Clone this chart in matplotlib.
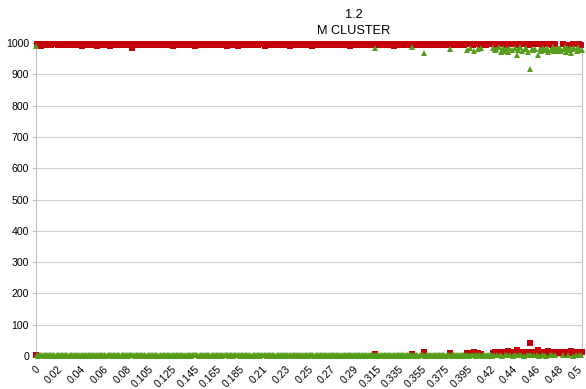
import numpy as np
import matplotlib.pyplot as plt
from matplotlib.transforms import ScaledTranslation

plt.rcParams["font.family"] = ["Liberation Sans", "DejaVu Sans"]

# one label per block of 21 runs (5 runs for every p step of 0.005)
tick_labels = ["0", "0.02", "0.04", "0.06", "0.08", "0.105", "0.125", "0.145",
               "0.165", "0.185", "0.21", "0.23", "0.25", "0.27", "0.29", "0.315",
               "0.335", "0.355", "0.375", "0.395", "0.42", "0.44", "0.46", "0.48", "0.5"]

# size of cluster 1 per run, grouped by label block
red_blocks = [
    [3, 996, 997, 995, 996, 990, 996, 997, 996, 995, 996, 997, 996, 996, 995, 997, 996, 996, 997, 996, 995],
    [996, 997, 996, 995, 996, 997, 996, 995, 996, 997, 996, 996, 995, 997, 996, 996, 997, 995, 996, 997, 996],
    [990, 996, 997, 995, 996, 997, 996, 995, 996, 997, 996, 995, 996, 997, 990, 996, 997, 996, 995, 996, 997],
    [996, 995, 997, 996, 996, 990, 996, 997, 995, 996, 996, 997, 996, 995, 996, 997, 996, 996, 995, 997, 996],
    [996, 997, 995, 996, 996, 985, 996, 997, 996, 995, 996, 997, 996, 996, 995, 997, 996, 996, 997, 995, 996],
    [997, 996, 995, 996, 997, 996, 996, 995, 997, 996, 996, 997, 995, 996, 996, 997, 996, 995, 996, 997, 996],
    [990, 996, 997, 996, 995, 996, 997, 996, 996, 995, 997, 996, 996, 997, 995, 996, 996, 997, 996, 995, 996],
    [990, 996, 995, 997, 996, 996, 995, 997, 996, 996, 997, 995, 996, 996, 997, 996, 995, 996, 997, 996, 996],
    [995, 997, 996, 996, 997, 995, 996, 996, 991, 996, 997, 995, 996, 996, 997, 996, 995, 996, 990, 996, 997],
    [996, 995, 996, 997, 996, 996, 995, 997, 996, 996, 997, 995, 996, 996, 997, 996, 995, 996, 997, 996, 996],
    [996, 990, 996, 997, 995, 996, 996, 997, 996, 995, 996, 997, 996, 996, 995, 997, 996, 996, 997, 995, 996],
    [997, 996, 995, 991, 996, 997, 996, 996, 995, 997, 996, 996, 997, 995, 996, 996, 997, 996, 995, 996, 997],
    [996, 996, 995, 990, 996, 997, 996, 995, 996, 997, 996, 996, 995, 997, 996, 996, 997, 995, 996, 996, 997],
    [996, 995, 996, 997, 996, 996, 995, 997, 996, 996, 997, 995, 996, 996, 997, 996, 995, 991, 996, 997, 996],
    [995, 996, 997, 996, 996, 995, 997, 996, 996, 997, 995, 996, 996, 997, 996, 995, 996, 997, 996, 6, 996],
    [996, 997, 995, 996, 996, 997, 996, 995, 996, 997, 996, 996, 995, 997, 996, 991, 996, 997, 995, 996, 996],
    [997, 996, 995, 996, 997, 996, 996, 995, 997, 996, 996, 5, 996, 997, 995, 996, 996, 997, 996, 995, 996],
    [996, 13, 997, 996, 995, 996, 997, 996, 996, 995, 997, 996, 996, 997, 995, 996, 996, 997, 996, 995, 996],
    [997, 996, 995, 996, 8, 996, 997, 995, 996, 996, 997, 996, 995, 996, 997, 996, 996, 995, 997, 996, 9],
    [996, 997, 10, 996, 995, 12, 996, 997, 996, 8, 996, 995, 6, 997, 996, 996, 995, 997, 996, 996, 997],
    [996, 997, 8, 996, 12, 10, 995, 6, 996, 14, 997, 9, 13, 996, 11, 995, 16, 7, 996, 12, 997],
    [996, 9, 996, 18, 11, 995, 7, 996, 13, 997, 10, 8, 996, 14, 995, 42, 996, 9, 12, 996, 11],
    [996, 20, 997, 10, 13, 995, 8, 996, 12, 997, 9, 15, 996, 11, 995, 7, 14, 996, 10, 12, 9],
    [11, 8, 13, 996, 10, 6, 14, 9, 995, 12, 8, 15, 10, 997, 9, 996, 13, 7, 996, 11, 995],
    [12],
]

# size of cluster 2 per run
green_blocks = [
    [992, 2, 1, 2, 2, 3, 2, 1, 2, 2, 2, 1, 2, 2, 2, 1, 2, 2, 1, 2, 2],
    [2, 1, 2, 2, 2, 1, 2, 2, 2, 1, 2, 2, 2, 1, 2, 2, 1, 2, 2, 1, 2],
    [3, 2, 1, 2, 2, 1, 2, 2, 2, 1, 2, 2, 2, 1, 3, 2, 1, 2, 2, 2, 1],
    [2, 2, 1, 2, 2, 3, 2, 1, 2, 2, 2, 1, 2, 2, 2, 1, 2, 2, 2, 1, 2],
    [2, 1, 2, 2, 2, 4, 2, 1, 2, 2, 2, 1, 2, 2, 2, 1, 2, 2, 1, 2, 2],
    [1, 2, 2, 2, 1, 2, 2, 2, 1, 2, 2, 1, 2, 2, 2, 1, 2, 2, 2, 1, 2],
    [3, 2, 1, 2, 2, 2, 1, 2, 2, 2, 1, 2, 2, 1, 2, 2, 2, 1, 2, 2, 2],
    [3, 2, 2, 1, 2, 2, 2, 1, 2, 2, 1, 2, 2, 2, 1, 2, 2, 2, 1, 2, 2],
    [2, 1, 2, 2, 1, 2, 2, 2, 3, 2, 1, 2, 2, 2, 1, 2, 2, 2, 3, 2, 1],
    [2, 2, 2, 1, 2, 2, 2, 1, 2, 2, 1, 2, 2, 2, 1, 2, 2, 2, 1, 2, 2],
    [2, 3, 2, 1, 2, 2, 2, 1, 2, 2, 2, 1, 2, 2, 2, 1, 2, 2, 1, 2, 2],
    [1, 2, 2, 3, 2, 1, 2, 2, 2, 1, 2, 2, 1, 2, 2, 2, 1, 2, 2, 2, 1],
    [2, 2, 2, 3, 2, 1, 2, 2, 2, 1, 2, 2, 2, 1, 2, 2, 1, 2, 2, 2, 1],
    [2, 2, 2, 1, 2, 2, 2, 1, 2, 2, 1, 2, 2, 2, 1, 2, 2, 3, 2, 1, 2],
    [2, 2, 1, 2, 2, 2, 1, 2, 2, 1, 2, 2, 2, 1, 2, 2, 2, 1, 2, 985, 2],
    [2, 1, 2, 2, 2, 1, 2, 2, 2, 1, 2, 2, 2, 1, 2, 3, 2, 1, 2, 2, 2],
    [1, 2, 2, 2, 1, 2, 2, 2, 1, 2, 2, 988, 2, 1, 2, 2, 2, 1, 2, 2, 2],
    [2, 968, 1, 2, 2, 2, 1, 2, 2, 2, 1, 2, 2, 1, 2, 2, 2, 1, 2, 2, 2],
    [1, 2, 2, 2, 981, 2, 1, 2, 2, 2, 1, 2, 2, 2, 1, 2, 2, 2, 1, 2, 978],
    [2, 1, 983, 2, 2, 975, 2, 1, 2, 980, 2, 2, 985, 1, 2, 2, 2, 1, 2, 2, 1],
    [2, 1, 985, 2, 978, 981, 2, 988, 2, 972, 1, 984, 976, 2, 980, 2, 970, 983, 2, 977, 1],
    [2, 984, 2, 962, 979, 2, 986, 2, 974, 1, 981, 983, 2, 971, 2, 917, 2, 982, 978, 2, 980],
    [2, 962, 1, 982, 975, 2, 985, 2, 977, 1, 983, 970, 2, 979, 2, 986, 973, 2, 981, 976, 984],
    [980, 985, 974, 2, 982, 988, 971, 983, 2, 977, 984, 969, 981, 1, 983, 2, 976, 987, 2, 979, 2],
    [978],
]

red = [v for block in red_blocks for v in block]
green = [v for block in green_blocks for v in block]
runs = np.arange(len(red))

tick_pos = []
start = 0
for block in red_blocks:
    tick_pos.append(start)
    start += len(block)

fig = plt.figure(figsize=(5.86, 3.89), dpi=100)
ax = fig.add_axes([36 / 586, 1 - 356 / 389, 546 / 586, 313 / 389])

ax.plot(runs, red, linestyle="none", marker="s", markersize=4.3,
        markeredgewidth=0, color="#C5000B", clip_on=False, zorder=3)
ax.plot(runs, green, linestyle="none", marker="^", markersize=4.3,
        markeredgewidth=0, color="#579D1C", clip_on=False, zorder=4)

ax.set_xlim(0, runs[-1])
ax.set_ylim(0, 1000)
ax.set_yticks(np.arange(0, 1001, 100))
ax.yaxis.grid(True, color="#d0d0d0", linewidth=0.8)
ax.set_axisbelow(True)

# category labels drawn by hand so they can sit a little left of each tick
ax.set_xticks(tick_pos)
ax.set_xticklabels([])
ax.tick_params(axis="x", length=0)
for i, (pos, text) in enumerate(zip(tick_pos, tick_labels)):
    dx = -5 if i == len(tick_labels) - 1 else -1
    off = ScaledTranslation(dx / 100, -8 / 100, fig.dpi_scale_trans)
    ax.text(pos, 0, text, transform=ax.get_xaxis_transform() + off,
            rotation=45, ha="right", va="top", rotation_mode="anchor",
            fontsize=7.6)

ax.tick_params(axis="y", length=3, width=0.8, color="#c0c0c0", labelsize=7.6, pad=2)

for side in ["left", "right", "bottom", "top"]:
    ax.spines[side].set_color("#c0c0c0")
    ax.spines[side].set_linewidth(0.8)

fig.text(354 / 586, 1 - 15 / 389, "1.2", ha="center", va="center", fontsize=9.2)
fig.text(354 / 586, 1 - 31 / 389, "M CLUSTER", ha="center", va="center", fontsize=9.2)

fig.savefig("out.png", dpi=100, facecolor="white")
